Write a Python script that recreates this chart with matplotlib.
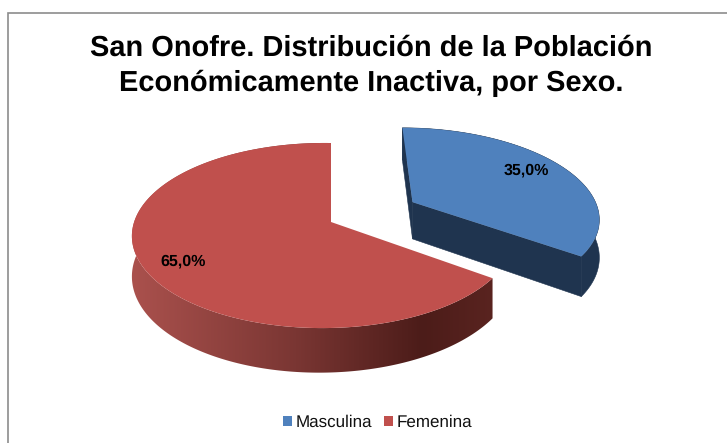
import numpy as np
import matplotlib
matplotlib.use("Agg")
import matplotlib.pyplot as plt
from matplotlib.patches import Rectangle, Polygon
from matplotlib.colors import LinearSegmentedColormap

title = "San Onofre. Distribución de la Población\nEconómicamente Inactiva, por Sexo."
categories = ["Masculina", "Femenina"]
values = [35.0, 65.0]
labels = ["35,0%", "65,0%"]
colors = ["#4F81BD", "#C0504D"]
explode = [0.50, 0.0]
tilt_u = [0.0, 0.04]

plt.rcParams["font.family"] = ["Liberation Sans", "DejaVu Sans"]
plt.rcParams["text.hinting"] = "no_hinting"
plt.rcParams["text.hinting_factor"] = 1

W, H = 727, 443
fig = plt.figure(figsize=(W / 100, H / 100), dpi=100)
ax = fig.add_axes([0, 0, 1, 1])

# projection of the pie disc on to the page
CX, CY, A, B, KV, DEPTH = 331, 222, 189, 90.5, 0.146, 38
NAVY = "#1F344F"
rim_cmap = LinearSegmentedColormap.from_list(
    "rim", [(0.0, "#AC524E"), (0.46, "#7A3633"), (0.80, "#4C1C19"), (1.0, "#5A2420")])


def project(u, v, ku, down=0.0):
    w = 1 + KV * v + ku * u
    return CX + A * u / w, CY - B * v / w + down * DEPTH / w


total = sum(values)
start = 0.0
for i, val in enumerate(values):
    a0, a1 = start, start + val / total * 2 * np.pi
    start = a1
    mid = (a0 + a1) / 2
    ou, ov = explode[i] * np.sin(mid), explode[i] * np.cos(mid)
    th = np.linspace(a0, a1, 360)
    ru, rv = ou + np.sin(th), ov + np.cos(th)
    ku = tilt_u[i]

    x0, y0 = project(ru, rv, ku)
    x1, y1 = project(ru, rv, ku, 1.0)
    band = np.c_[np.r_[x0, x1[::-1]], np.r_[y0, y1[::-1]]]
    if i == 1:
        img = ax.imshow(np.linspace(0, 1, 360)[None, :], extent=(125, 497, 380, 140), cmap=rim_cmap,
                        aspect="auto", zorder=2, interpolation="bilinear")
        clip = Polygon(band, transform=ax.transData, fc="none", ec="none")
        ax.add_patch(clip)
        img.set_clip_path(clip)
    else:
        ax.add_patch(Polygon(band, fc=NAVY, ec=NAVY, lw=0.4, zorder=2))
        # visible cut faces of the exploded slice
        for k in (0, -1):
            us, vs = np.array([ou, ru[k]]), np.array([ov, rv[k]])
            xa, ya = project(us, vs, ku)
            xb, yb = project(us, vs, ku, 1.0)
            ax.fill([xa[0], xa[1], xb[1], xb[0]], [ya[0], ya[1], yb[1], yb[0]],
                    color=NAVY, lw=0.4, zorder=3)
    # top
    tx, ty = project(np.r_[ou, ru], np.r_[ov, rv], ku)
    ax.fill(tx, ty, color=colors[i], lw=0, zorder=4)

ax.set_xlim(0, W)
ax.set_ylim(H, 0)
ax.axis("off")

# data labels
ax.text(526, 170, labels[0], ha="center", va="center", fontsize=11.6, weight="bold", color="black", zorder=5)
ax.text(183, 261, labels[1], ha="center", va="center", fontsize=11.6, weight="bold", color="black", zorder=5)

# title
ax.text(371, 66, title, ha="center", va="center", fontsize=20.9, weight="bold", color="black",
        linespacing=1.4, zorder=5)

# legend
ax.add_patch(Rectangle((283, 416), 9, 10, color=colors[0], lw=0))
ax.text(296, 422.5, categories[0], ha="left", va="center", fontsize=12, color="#111111")
ax.add_patch(Rectangle((384, 416), 9, 10, color=colors[1], lw=0))
ax.text(397, 422.5, categories[1], ha="left", va="center", fontsize=12, color="#111111")

# chart frame (top and left edges show in the crop)
ax.plot([8, 8, W], [H, 13, 13], color="#8C8C8C", lw=1.2, zorder=1, solid_joinstyle="miter")

fig.savefig("out.png", dpi=100, facecolor="white")
